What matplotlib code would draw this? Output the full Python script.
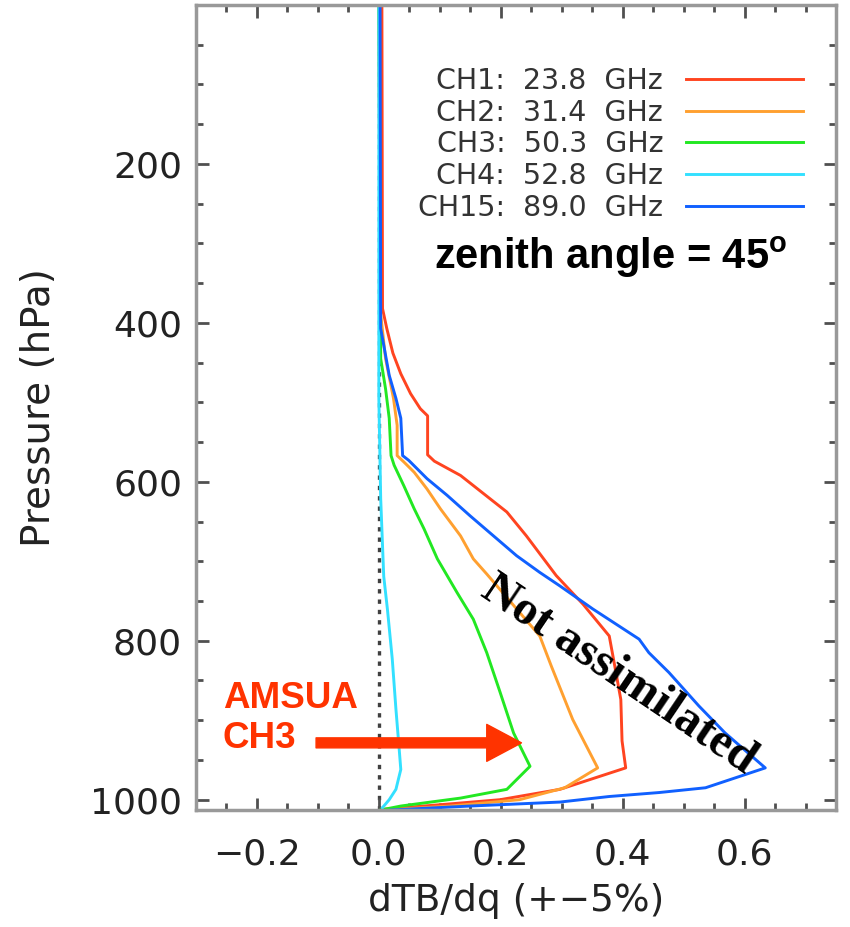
import numpy as np
import matplotlib
matplotlib.use('Agg')
import matplotlib.pyplot as plt
from matplotlib.ticker import MultipleLocator

plt.rcParams['mathtext.fontset'] = 'custom'
plt.rcParams['mathtext.bf'] = 'Liberation Sans:bold'
plt.rcParams['mathtext.rm'] = 'Liberation Sans'

#%% profiles: dTB/dq vs pressure (hPa)
ch1_x = [0.005, 0.006, 0.013, 0.023, 0.036, 0.052, 0.068, 0.080, 0.080, 0.091, 0.134, 0.210,
         0.242, 0.291, 0.335, 0.378, 0.389, 0.397, 0.399, 0.405, 0.297, 0.199, 0.106, 0.008]
ch1_p = [0, 382, 407, 438, 464, 489, 508, 517, 566, 574, 592, 638,
         668, 718, 754, 794, 840, 874, 926, 960, 987, 1000, 1006, 1012]

ch2_x = [0.0, 0.002, 0.011, 0.024, 0.030, 0.030, 0.041, 0.058, 0.079, 0.101, 0.134, 0.155,
         0.177, 0.264, 0.283, 0.318, 0.359, 0.305, 0.231, 0.117, 0.011]
ch2_p = [0, 382, 445, 495, 529, 567, 575, 588, 609, 634, 668, 697,
         716, 794, 832, 899, 960, 985, 1000, 1008, 1013]

ch3_x = [0.0, 0.003, 0.011, 0.017, 0.020, 0.025, 0.041, 0.058, 0.074, 0.096, 0.128, 0.155,
         0.177, 0.199, 0.221, 0.248, 0.210, 0.134, 0.036, 0.003]
ch3_p = [0, 445, 483, 520, 567, 579, 605, 634, 659, 697, 739, 773,
         815, 865, 916, 958, 987, 998, 1008, 1013]

ch4_x = [0.0, 0.0, 0.003, 0.008, 0.014, 0.022, 0.028, 0.033, 0.036, 0.028, 0.017, 0.006]
ch4_p = [0, 495, 621, 719, 760, 823, 886, 933, 962, 987, 1000, 1010]

ch15_x = [0.002, 0.003, 0.017, 0.028, 0.036, 0.039, 0.049, 0.079, 0.112, 0.150, 0.188, 0.226,
          0.264, 0.297, 0.351, 0.427, 0.443, 0.476, 0.525, 0.568, 0.634, 0.536, 0.460, 0.378,
          0.297, 0.150, 0.020]
ch15_p = [0, 407, 466, 495, 520, 567, 573, 596, 617, 643, 668, 693,
          714, 731, 760, 798, 815, 840, 882, 916, 960, 985, 991, 996,
          1003, 1008, 1013]

labels = ['CH1:  23.8  GHz', 'CH2:  31.4  GHz', 'CH3:  50.3  GHz',
          'CH4:  52.8  GHz', 'CH15:  89.0  GHz']
colors = ['#ff4420', '#ffa030', '#22e822', '#33e0ff', '#1060ff']
xticks = [-0.2, 0.0, 0.2, 0.4, 0.6]
yticks = [200, 400, 600, 800, 1000]

#%%
fig = plt.figure(figsize=(8.5, 9.27), dpi=100)
ax = fig.add_axes([0.2306, 0.1262, 0.7529, 0.8684])

ax.axvline(0, color='#404040', lw=2.4, ls=(0, (1.3, 1.8)), zorder=1)
profiles = [(ch1_x, ch1_p), (ch2_x, ch2_p), (ch3_x, ch3_p), (ch4_x, ch4_p), (ch15_x, ch15_p)]
for (xx, pp), c, lab in zip(profiles, colors, labels):
    ax.plot(xx, pp, color=c, lw=2.1, label=lab, zorder=2)

ax.set_xlim(-0.3, 0.75)
ax.set_ylim(1013, 0)
ax.set_xticks(xticks)
ax.set_yticks(yticks)
ax.xaxis.set_minor_locator(MultipleLocator(0.05))
ax.yaxis.set_minor_locator(MultipleLocator(50))
ax.tick_params(which='both', direction='in', top=True, right=True, color='#505050', width=2)
ax.tick_params(which='major', length=9)
ax.tick_params(which='minor', length=5)
ax.tick_params(axis='x', labelsize=26, pad=20, labelcolor='#222222')
ax.tick_params(axis='y', labelsize=26, pad=10, labelcolor='#222222')
for s in ax.spines.values():
    s.set_color('#999999')
    s.set_linewidth(2.5)

ax.set_xlabel('dTB/dq (+\u22125%)', fontsize=27, color='#222222', labelpad=8)
ax.set_ylabel('Pressure (hPa)', fontsize=28, color='#222222')
ax.yaxis.set_label_coords(-0.215, 0.5)

leg = ax.legend(loc='upper right', bbox_to_anchor=(0.948, 0.923), frameon=False,
                markerfirst=False, fontsize=20.5, handlelength=4.1, handletextpad=0.8,
                labelspacing=0.13, borderpad=0, borderaxespad=0)
for t in leg.get_texts():
    t.set_color('#333333')

ax.text(0.648, 0.687, r'zenith angle = 45$^\mathbf{o}$', transform=ax.transAxes,
        ha='center', va='center', fontsize=30, fontweight='bold',
        family='Liberation Sans', color='black')

ax.text(0.394, 843, 'Not assimilated', rotation=-34, rotation_mode='anchor',
        ha='center', va='center', fontsize=35, fontweight='bold',
        family='Liberation Serif', color='black', zorder=3)

ax.text(0.042, 0.114, 'AMSUA\nCH3', transform=ax.transAxes, ha='left', va='center',
        fontsize=26.5, fontweight='bold', family='Liberation Sans', color='#ff3300',
        linespacing=1.2)
ax.annotate('', xy=(0.234, 928.5), xytext=(-0.103, 928.5),
            arrowprops=dict(arrowstyle='simple,head_length=2.5,head_width=2.66,tail_width=0.72',
                            color='#ff3300', shrinkA=0, shrinkB=0, mutation_scale=10), zorder=4)

plt.savefig('out.png', dpi=100)
plt.close()
